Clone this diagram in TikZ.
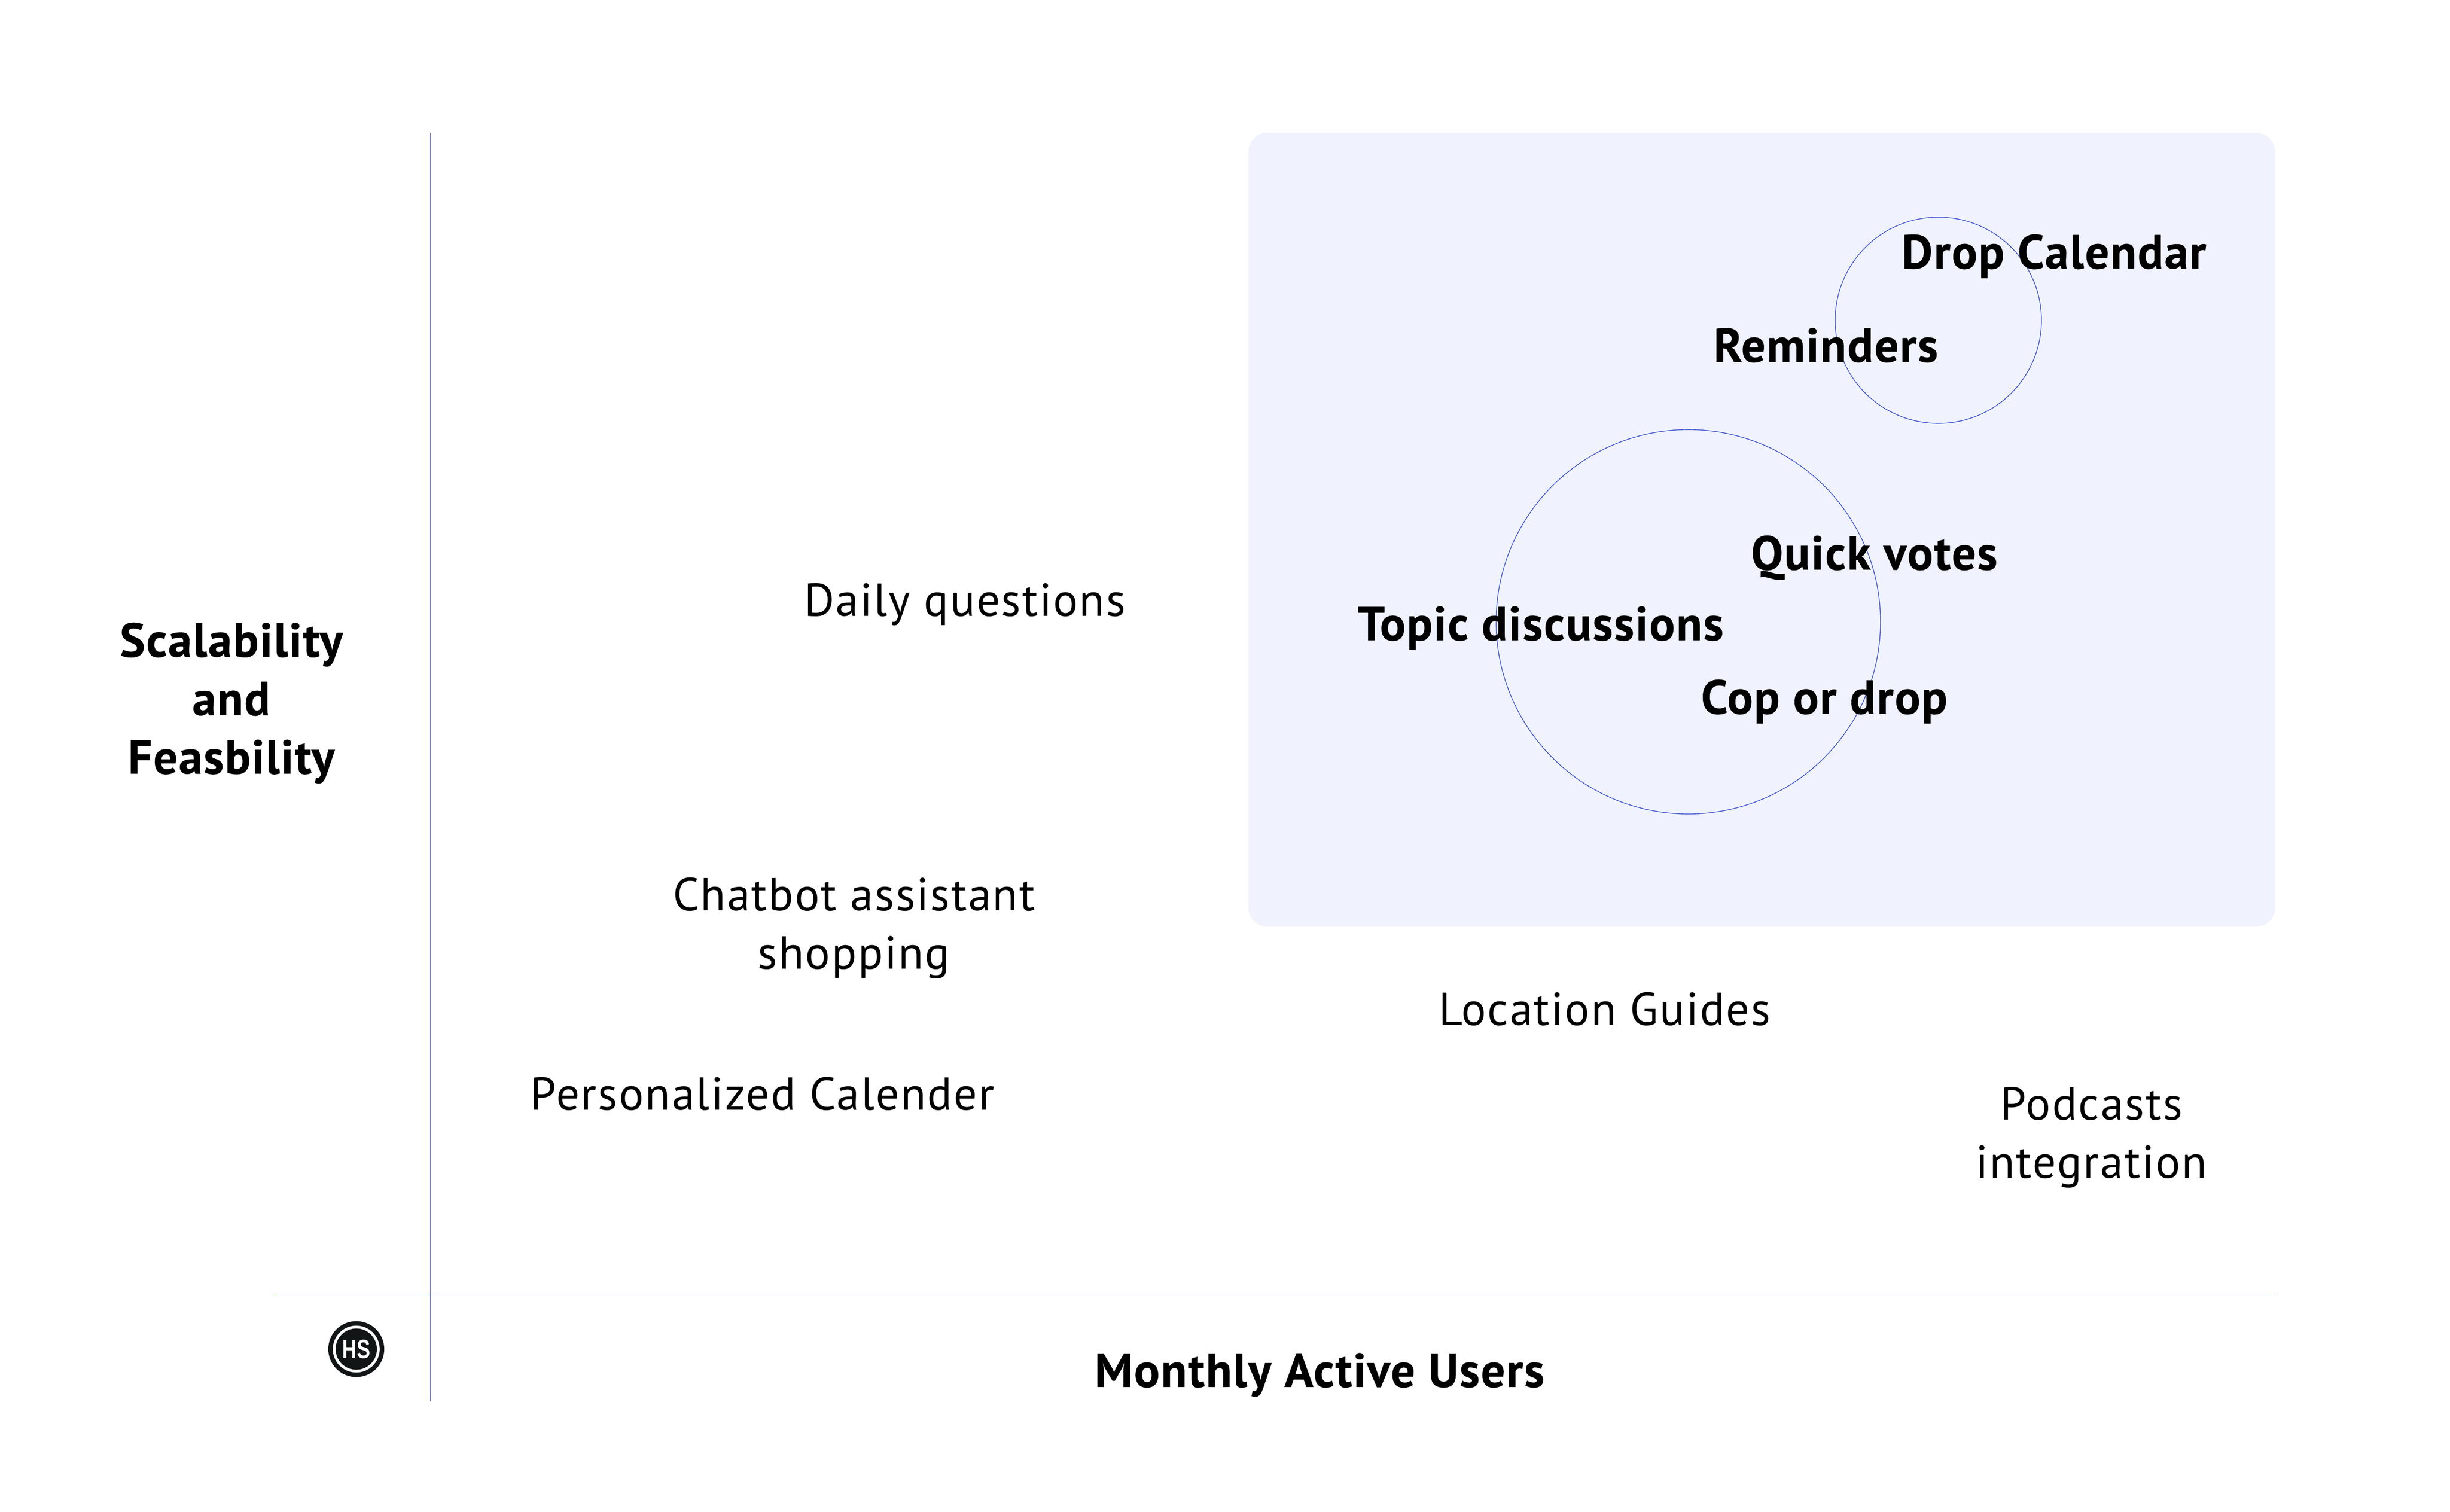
\documentclass[tikz,border=0pt]{standalone}
\usepackage{fontspec}
\setmainfont{PT Sans}
\usetikzlibrary{positioning,shapes,arrows}
\definecolor{axisblue}{HTML}{3B53C8}
\definecolor{zonefill}{HTML}{F0F2FE}
\definecolor{logoblack}{HTML}{111515}
\newfontfamily\labelfont[LetterSpace=3.0]{PT Sans}
\newfontfamily\boldfont[LetterSpace=2.4,FakeBold=0.35]{PT Sans Bold}
\newfontfamily\logofont[FakeStretch=0.76]{Liberation Sans Bold}
\tikzstyle{plain} = [align=center, font=\labelfont\fontsize{14.8}{18.7}\selectfont, text=black, inner sep=0pt]
\tikzstyle{strong} = [align=center, font=\boldfont\fontsize{15.3}{18.7}\selectfont, text=black, inner sep=0pt]
\tikzstyle{bubble} = [circle, draw=axisblue, line width=0.22pt, inner sep=0pt]
\tikzstyle{axis} = [draw=axisblue, line width=0.3pt]
\begin{document}
\begin{tikzpicture}[x=0.5pt,y=-0.5pt]
          \useasboundingbox (0,0) rectangle (1568,967.5);
          \fill [white] (0,0) rectangle (1568,967.5);
          \fill [zonefill, rounded corners=6pt] (799,85) rectangle (1456,593);
          % axes
          \coordinate (ytop) at (275.5,85);
          \coordinate (ybot) at (275.5,897);
          \coordinate (xleft) at (175,829);
          \coordinate (xright) at (1456,829);
          \draw [axis] (ytop) -- (ybot);
          \draw [axis] (xleft) -- (xright);
          % bubbles
          \node (smallbubble) [bubble, minimum size=66pt] at (1240.5,205) {};
          \node (bigbubble) [bubble, minimum size=123pt] at (1080.5,398) {};
          % labels
          \node (yaxis) [strong] at (148,450) {Scalability\\and\\Feasbility};
          \node (xaxis) [strong] at (844.5,880) {Monthly Active Users};
          \node (daily) [plain] at (617.5,387) {Daily questions};
          \node (chatbot) [plain] at (546.5,594) {Chatbot assistant\\shopping};
          \node (calender) [plain] at (488,700) {Personalized Calender};
          \node (guides) [plain] at (1027,646) {Location Guides};
          \node (podcasts) [plain] at (1338.5,728) {Podcasts\\integration};
          \node (drop) [strong] at (1314.5,164) {Drop Calendar};
          \node (reminders) [strong] at (1168.5,221) {Reminders};
          \node (votes) [strong] at (1199.5,357) {Quick votes};
          \node (topic) [strong] at (986,402) {Topic discussions};
          \node (cop) [strong] at (1167.5,449) {Cop or drop};
          % logo
          \node (logo) [circle, fill=logoblack, minimum size=17.9pt, inner sep=0pt] at (228,863.5) {};
          \node (logoring) [circle, fill=white, minimum size=15pt, inner sep=0pt] at (logo) {};
          \node (logocore) [circle, fill=logoblack, minimum size=13.2pt, inner sep=0pt, text=white, font=\logofont\fontsize{8.5}{8.5}\selectfont] at (logo) {HS};
        \end{tikzpicture}
\end{document}
